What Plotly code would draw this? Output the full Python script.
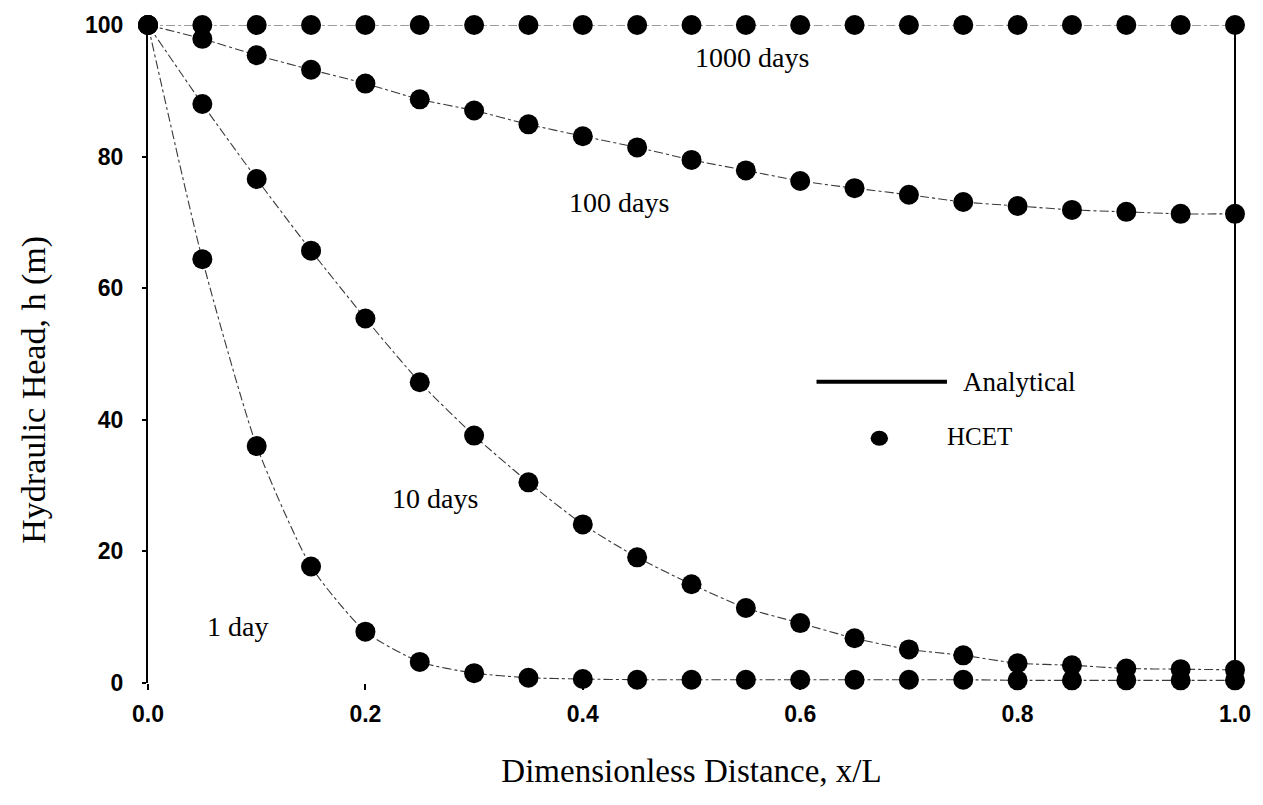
import plotly.graph_objects as go

# Dimensionless distance x/L
x_over_L = [0.00, 0.05, 0.10, 0.15, 0.20, 0.25, 0.30, 0.35, 0.40, 0.45, 0.50,
            0.55, 0.60, 0.65, 0.70, 0.75, 0.80, 0.85, 0.90, 0.95, 1.00]

# Hydraulic head (m) computed with HCET at each elapsed time
head_1day = [100, 64.4, 36.0, 17.7, 7.8, 3.2, 1.5, 0.8, 0.6, 0.5, 0.5,
             0.5, 0.5, 0.5, 0.5, 0.5, 0.4, 0.4, 0.4, 0.4, 0.4]
head_10days = [100, 88.0, 76.6, 65.7, 55.4, 45.7, 37.6, 30.5, 24.1, 19.1, 15.0,
               11.4, 9.1, 6.8, 5.1, 4.2, 3.0, 2.7, 2.2, 2.1, 2.0]
head_100days = [100, 97.9, 95.4, 93.2, 91.1, 88.7, 87.0, 84.9, 83.1, 81.4, 79.5,
                77.9, 76.3, 75.2, 74.2, 73.1, 72.5, 71.9, 71.6, 71.3, 71.3]
head_1000days = [100] * 21

series_names = ["1 day", "10 days", "100 days", "1000 days"]
series_values = [head_1day, head_10days, head_100days, head_1000days]

# Curve labels: (text, x, y)
curve_labels = [("1 day", 0.082, 8.6), ("10 days", 0.264, 28.0),
                ("100 days", 0.433, 73.0), ("1000 days", 0.556, 95.0)]

x_ticks = [0.0, 0.2, 0.4, 0.6, 0.8, 1.0]
x_tick_text = ["0.0", "0.2", "0.4", "0.6", "0.8", "1.0"]
y_ticks = [0, 20, 40, 60, 80, 100]

serif = "Liberation Serif, Times New Roman, serif"
sans = "Liberation Sans, Arial, sans-serif"

fig = go.Figure()

# Analytical solution curves (thin dash-dot lines)
for name, vals in zip(series_names, series_values):
    fig.add_trace(go.Scatter(
        x=x_over_L, y=vals, mode="lines", name=f"Analytical {name}",
        line=dict(color="#3a3a3a", width=1.1, dash="dashdot",
                  shape="spline", smoothing=0.6),
        showlegend=False, cliponaxis=False, hoverinfo="skip"))

# HCET solution points
for name, vals in zip(series_names, series_values):
    fig.add_trace(go.Scatter(
        x=x_over_L, y=vals, mode="markers", name=f"HCET {name}",
        marker=dict(color="black", size=20, symbol="circle"),
        showlegend=False, cliponaxis=False))

# Curve labels
for text, lx, ly in curve_labels:
    fig.add_annotation(x=lx, y=ly, text=text, showarrow=False,
                       font=dict(family=serif, size=28, color="black"))

# Hand-drawn legend content
fig.add_shape(type="line", xref="x", yref="y", x0=0.615, x1=0.735, y0=45.8, y1=45.8,
              line=dict(color="black", width=4))
fig.add_annotation(x=0.748, y=45.8, text="Analytical", showarrow=False, xanchor="left",
                   font=dict(family=serif, size=27, color="black"))
fig.add_shape(type="circle", xref="x", yref="y", x0=0.6648, x1=0.6808, y0=36.05, y1=38.35,
              fillcolor="black", line=dict(color="black", width=0))
fig.add_annotation(x=0.733, y=37.4, text="HCET", showarrow=False, xanchor="left",
                   font=dict(family=serif, size=25, color="black"))

# Y-axis title, set slightly below the plot's vertical centre
fig.add_annotation(xref="paper", yref="paper", x=-0.1056, y=0.446,
                   xanchor="center", yanchor="middle",
                   text="Hydraulic Head, h (m)", textangle=-90, showarrow=False,
                   font=dict(family=serif, size=34, color="black"))

# Right-hand border
fig.add_shape(type="line", xref="paper", yref="y", x0=1, x1=1, y0=0, y1=100,
              line=dict(color="black", width=2))

fig.update_layout(
    width=1263, height=805,
    margin=dict(l=148, r=26, t=22, b=122),
    paper_bgcolor="white", plot_bgcolor="white",
    xaxis=dict(
        range=[0, 1], tickvals=x_ticks, ticktext=x_tick_text,
        showgrid=False, zeroline=False, showline=False,
        ticks="outside", ticklen=6, tickwidth=1.5, tickcolor="black",
        ticklabelstandoff=4,
        tickfont=dict(family=sans, size=23, color="black", weight="bold"),
        title=dict(text="Dimensionless Distance, x/L", standoff=33,
                   font=dict(family=serif, size=33, color="black")),
    ),
    yaxis=dict(
        range=[0, 100], tickvals=y_ticks,
        showgrid=False, zeroline=False, showline=True, linecolor="black", linewidth=2,
        ticks="outside", ticklen=4, tickwidth=1.5, tickcolor="black",
        ticklabelstandoff=14,
        tickfont=dict(family=sans, size=23, color="black", weight="bold"),
    ),
)

fig.write_html("out.html")
